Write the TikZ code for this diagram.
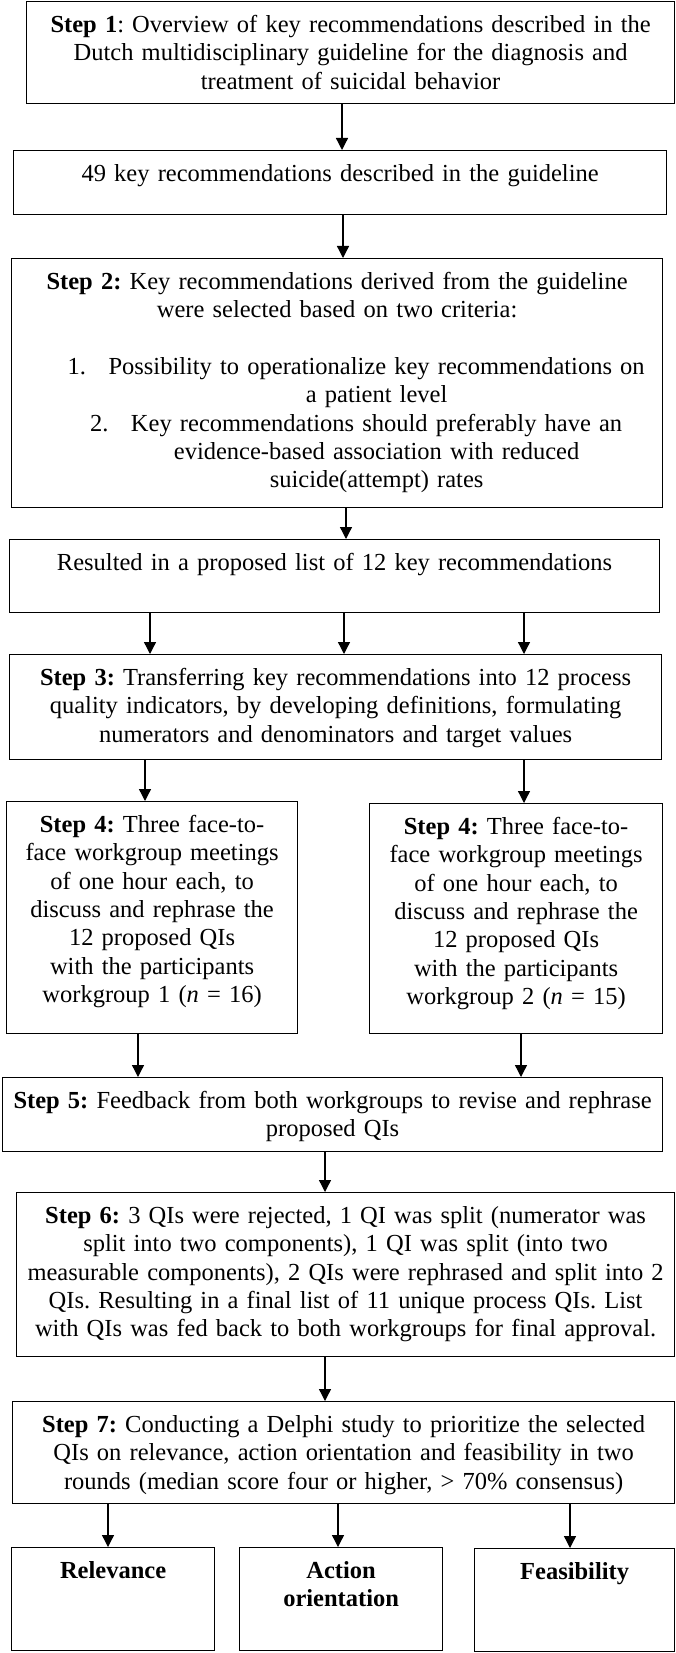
\documentclass[tikz,border=0pt]{standalone}
\usepackage{fontspec}
\setmainfont{Liberation Serif}
\usepackage{tikz}
\usetikzlibrary{
    calc,
    arrows.meta
}
\frenchspacing
\tikzset{
    % boxes of the chart, the text hangs from the top edge
    stepbox/.style={
        draw,
        line width=1.2pt,
        anchor=north west,
        inner sep=0pt,
        align=center,
        text height=31pt
    },
    % downward arrow from one box to the next
    flow/.style={
        line width=1.3pt,
        -{Triangle[width=12pt, length=12pt]}
    }
}

\begin{document}
\begin{tikzpicture}[x=1pt, y=-1pt, font=\fontsize{24.5}{28.3}\selectfont]
            \useasboundingbox (0,0) rectangle (675,1653);
            \node[stepbox, text width=648pt, text depth=71pt] (s1) at (26,1)
                {\textbf{Step 1}: Overview of key recommendations described in the\\
                 Dutch multidisciplinary guideline for the diagnosis and\\
                 treatment of suicidal behavior};
            \node[stepbox, text width=653pt, text depth=33pt] (keyrec) at (13,150)
                {49 key recommendations described in the guideline};
            \node[stepbox, text width=651pt, text depth=218pt] (s2) at (11,258)
                {\textbf{Step 2:} Key recommendations derived from the guideline\\
                 were selected based on two criteria:\\[28.3pt]
                 \hspace*{79pt}\llap{\makebox[41pt][l]{1.}}Possibility to operationalize key recommendations on\\
                 \hspace*{79pt}a patient level\\
                 \hspace*{79pt}\llap{\makebox[41pt][l]{2.}}Key recommendations should preferably have an\\
                 \hspace*{79pt}evidence-based association with reduced\\
                 \hspace*{79pt}suicide(attempt) rates};
            \node[stepbox, text width=650pt, text depth=42pt] (shortlist) at (9,539)
                {Resulted in a proposed list of 12 key recommendations};
            \node[stepbox, text width=652pt, text depth=74pt] (s3) at (9,654)
                {\textbf{Step 3:} Transferring key recommendations into 12 process\\
                 quality indicators, by developing definitions, formulating\\
                 numerators and denominators and target values};
            \node[stepbox, text width=291pt, text depth=201pt] (s4a) at (6,801)
                {\textbf{Step 4:} Three face-to-\\ face workgroup meetings\\
                 of one hour each, to\\ discuss and rephrase the\\ 12 proposed QIs\\
                 with the participants\\ workgroup 1 (\textit{n} = 16)};
            \node[stepbox, text width=293pt, text depth=199pt] (s4b) at (369,803)
                {\textbf{Step 4:} Three face-to-\\ face workgroup meetings\\
                 of one hour each, to\\ discuss and rephrase the\\ 12 proposed QIs\\
                 with the participants\\ workgroup 2 (\textit{n} = 15)};
            \node[stepbox, text width=660pt, text depth=43pt] (s5) at (2,1077)
                {\textbf{Step 5:} Feedback from both workgroups to revise and rephrase\\
                 proposed QIs};
            \node[stepbox, text width=658pt, text depth=133pt] (s6) at (16,1192)
                {\textbf{Step 6:} 3 QIs were rejected, 1 QI was split (numerator was\\
                 split into two components), 1 QI was split (into two\\
                 measurable components), 2 QIs were rephrased and split into 2\\
                 QIs. Resulting in a final list of 11 unique process QIs. List\\
                 with QIs was fed back to both workgroups for final approval.};
            \node[stepbox, text width=662pt, text depth=71pt] (s7) at (12,1401)
                {\textbf{Step 7:} Conducting a Delphi study to prioritize the selected\\
                 QIs on relevance, action orientation and feasibility in two\\
                 rounds (median score four or higher, > 70\% consensus)};
            \node[stepbox, text width=203pt, text depth=72pt] (relev) at (11,1547)
                {\textbf{Relevance}};
            \node[stepbox, text width=203pt, text depth=72pt] (action) at (239,1547)
                {\textbf{Action}\\ \textbf{orientation}};
            \node[stepbox, text width=200pt, text depth=72pt] (feas) at (474,1548)
                {\textbf{Feasibility}};
            \begin{scope}
                \draw[flow] (342,0 |- s1.south) -- (342,0 |- keyrec.north);
                \draw[flow] (343,0 |- keyrec.south) -- (343,0 |- s2.north);
                \draw[flow] (346,0 |- s2.south) -- (346,0 |- shortlist.north);
                \foreach \x in {150, 344, 524} {
                    \draw[flow] (\x,0 |- shortlist.south) -- (\x,0 |- s3.north);
                }
                \draw[flow] (145,0 |- s3.south) -- (145,0 |- s4a.north);
                \draw[flow] (524,0 |- s3.south) -- (524,0 |- s4b.north);
                \draw[flow] (138,0 |- s4a.south) -- (138,0 |- s5.north);
                \draw[flow] (521,0 |- s4b.south) -- (521,0 |- s5.north);
                \draw[flow] (325,0 |- s5.south) -- (325,0 |- s6.north);
                \draw[flow] (325,0 |- s6.south) -- (325,0 |- s7.north);
                \draw[flow] (108,0 |- s7.south) -- (108,0 |- relev.north);
                \draw[flow] (338,0 |- s7.south) -- (338,0 |- action.north);
                \draw[flow] (570,0 |- s7.south) -- (570,0 |- feas.north);
            \end{scope}
\end{tikzpicture}
\end{document}
